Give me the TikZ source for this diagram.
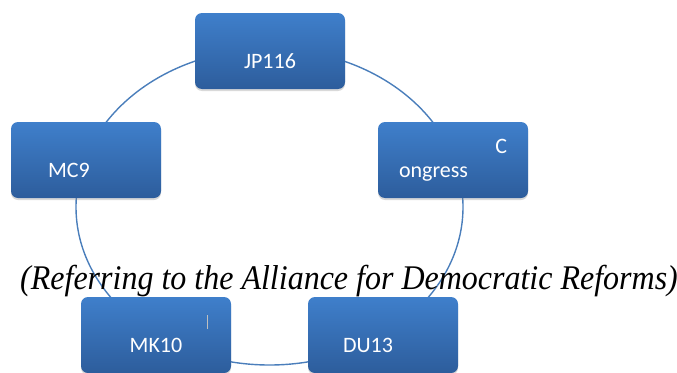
\documentclass[tikz,border=0pt]{standalone}
\usepackage{fontspec}
\usepackage{tikz}
\usetikzlibrary{shadows}
\newfontfamily\boxfont{Carlito}
\newfontfamily\capfont{Liberation Serif}
\definecolor{boxtop}{HTML}{3F7FCB}
\definecolor{boxbot}{HTML}{2D5D9C}
\definecolor{ringblue}{HTML}{4A7EBB}

\begin{document}
\begin{tikzpicture}[x=1pt,y=-1pt,
    member/.style={rounded corners=7pt,minimum width=150pt,minimum height=76pt,
        inner sep=0pt,top color=boxtop,bottom color=boxbot,text=white,
        font=\boxfont\fontsize{22}{24}\selectfont,text height=34pt,text depth=0pt,
        drop shadow={shadow xshift=0pt,shadow yshift=-2pt,opacity=0.3}}]
    \useasboundingbox (0,0) rectangle (677,372);
    % the ring behind the boxes
    \coordinate (hub) at (269.5,207);
    \draw[ringblue,line width=1.4pt] (hub) ellipse [x radius=193.5,y radius=158];
    % caption, cut off at its foot
    \begin{scope}
        \clip (0,0) rectangle (677,296);
        \node[anchor=base west,inner sep=0pt,font=\capfont\itshape\fontsize{32}{36}\selectfont]
            (caption) at (20,289) {\scalebox{1}[1.08]{(Referring to the Alliance for Democratic Reforms)}};
    \end{scope}
    % members of the cycle
    \node[member] (jp) at (270,51) {JP116};
    \node[member,text width=108pt,align=left,text height=,text depth=] (congress) at (453,160) {\hfill C\\ongress};
    \node[member,text width=76pt,align=left] (mc) at (86,160) {MC9};
    \node[member] (mk) at (156,335) {MK10};
    \node[member,text width=80pt,align=left] (du) at (383,335) {DU13};
    \draw[black!25,line width=0.6pt] ([shift={(51,-20)}]mk.center) -- ([shift={(51,-6)}]mk.center);
\end{tikzpicture}
\end{document}
